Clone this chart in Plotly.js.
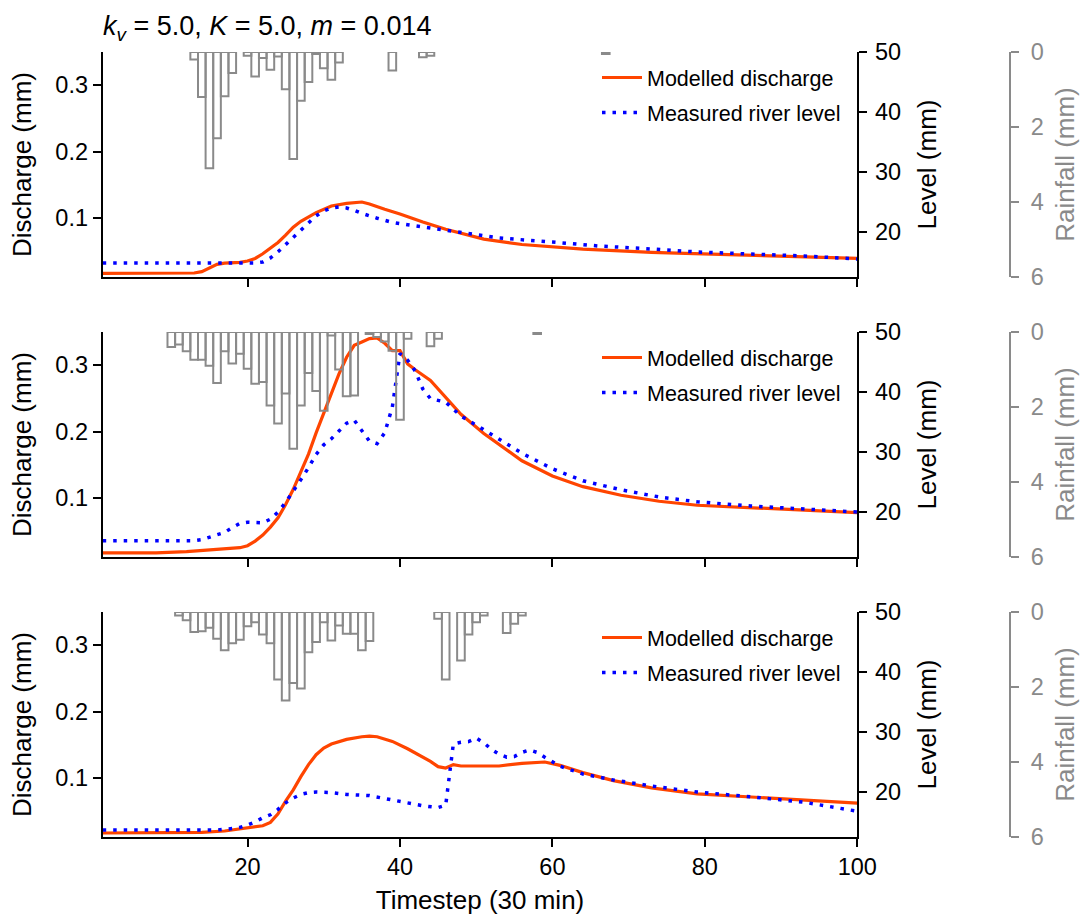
<!DOCTYPE html>
<html>
<head>
<meta charset="utf-8">
<script src="https://cdn.plot.ly/plotly-3.0.1.min.js"></script>
<style>html,body{margin:0;padding:0;background:#fff;}#chart{width:1080px;height:918px;}</style>
</head>
<body>
<div id="chart"></div>
<script>
// ---------- data ----------
const timestepTicks = [20, 40, 60, 80, 100];
const dischargeTicks = [0.1, 0.2, 0.3];
const dischargeTickText = ["0.1", "0.2", "0.3"];
const levelTicks = [20, 30, 40, 50];
const rainTicks = [0, 2, 4, 6];

const seriesNames = ["Modelled discharge", "Measured river level"];
const titleText = "<i>k</i><sub><i>v</i></sub> = 5.0, <i>K</i> = 5.0, <i>m</i> = 0.014";

// Panel 1
const model1_t = [1,5,10,13,14,15,16,17,19,20,21,22,23,24,25,26,27,28,29,31,33,35,36,38,40,43,46,51,56,64,73,82,93,100];
const model1_q = [0.0165,0.0165,0.0165,0.017,0.019,0.025,0.030,0.032,0.033,0.035,0.039,0.046,0.054,0.063,0.074,0.086,0.095,0.102,0.108,0.118,0.122,0.124,0.121,0.113,0.106,0.094,0.083,0.068,0.060,0.053,0.048,0.045,0.042,0.039];
const level1_t = [1,10,21,22,23,24,25,26,27,28,29,30,31,32,33,34,35,37,39,41,44,48,53,60,66,73,79,86,93,100];
const level1_mm = [14.83,14.83,14.83,15.0,15.67,16.7,17.9,19.2,20.5,21.7,22.7,23.5,24.0,24.17,24.0,23.6,23.1,22.3,21.6,21.2,20.67,19.83,19.0,18.33,17.67,17.17,16.67,16.33,16.0,15.5];
const rain1_t = [13,14,15,16,17,18,20,21,22,23,24,25,26,27,28,29,30,31,32,39,43,44,67];
const rain1_mm = [0.2,1.2,3.1,2.3,1.18,0.56,0.1,0.65,0.16,0.47,0.12,0.99,2.85,1.3,0.8,0.05,0.43,0.74,0.28,0.49,0.14,0.1,0.05];

// Panel 2
const model2_t = [1,8,12,16,19,20,21,22,23,24,25,26,27,28,29,30,31,32,33,34,35,36,37,38,39,40,41,42,44,46,48,51,53,56,60,64,69,74,79,86,93,100];
const model2_q = [0.0173,0.0173,0.019,0.022,0.025,0.028,0.035,0.044,0.056,0.07,0.09,0.113,0.141,0.166,0.198,0.228,0.256,0.287,0.312,0.330,0.335,0.340,0.341,0.333,0.322,0.322,0.302,0.293,0.277,0.252,0.226,0.197,0.18,0.156,0.133,0.117,0.104,0.095,0.089,0.085,0.081,0.078];
const level2_t = [1,13,14,15,16,17,18,19,20,21,22,23,24,25,26,27,28,29,30,31,32,33,34,35,36,37,38,39,40,41,42,43,44,46,48,51,53,56,60,64,69,74,79,86,93,100];
const level2_mm = [15.22,15.22,15.4,15.8,16.2,16.6,17.4,18.1,18.3,18.3,18.2,18.8,20.0,21.6,23.4,25.4,27.4,29.6,31.2,32.2,33.5,34.8,35.3,33.6,31.8,31.4,33.2,37.5,46.4,45.3,43.5,40.5,38.9,38.3,36.0,33.7,32.2,29.8,27.2,25.2,23.7,22.5,21.7,21.0,20.5,20.0];
const rain2_t = [10,11,12,13,14,15,16,17,18,19,20,21,22,23,24,25,26,27,28,29,30,31,32,33,34,36,37,38,39,40,41,44,45,58];
const rain2_mm = [0.4,0.33,0.51,0.74,0.74,0.9,1.36,0.51,0.84,0.58,0.98,1.38,1.33,1.96,2.44,1.64,3.11,1.96,1.09,1.57,2.1,0.09,1.0,1.71,1.69,0.05,0.13,0.25,0.5,2.34,0.18,0.38,0.18,0.05];

// Panel 3
const model3_t = [1,10,14,17,20,22,23,24,25,26,27,28,29,30,31,33,35,36,37,38,39,41,43,44,45,46,47,48,51,53,56,59,61,64,68,73,79,86,93,100];
const model3_q = [0.017,0.017,0.018,0.020,0.025,0.028,0.033,0.046,0.065,0.082,0.102,0.12,0.135,0.145,0.151,0.158,0.162,0.163,0.162,0.159,0.155,0.144,0.132,0.125,0.117,0.115,0.12,0.118,0.118,0.118,0.122,0.124,0.119,0.108,0.096,0.085,0.076,0.071,0.066,0.062];
const level3_t = [1,16,18,19,20,21,22,23,24,25,26,27,28,29,31,33,36,38,40,43,45,46,47,48,49,50,51,52,53,54,55,56,57,58,59,61,64,68,73,79,86,93,100];
const level3_mm = [13.67,13.67,13.9,14.1,14.5,15.0,15.7,16.2,17.1,18.2,19.0,19.6,19.9,20.0,19.9,19.6,19.4,18.9,18.4,17.7,17.4,17.8,28.0,28.3,28.4,29.0,28.2,27.1,26.3,25.8,25.9,26.6,27.0,26.6,25.8,24.3,23.0,22.0,21.0,20.0,19.2,18.3,16.8];
const rain3_t = [11,12,13,14,15,16,17,18,19,20,21,22,23,24,25,26,27,28,29,30,31,32,33,34,35,36,45,46,48,49,50,51,54,55,56];
const rain3_mm = [0.09,0.22,0.53,0.51,0.42,0.71,1.02,0.83,0.74,0.38,0.27,0.6,0.83,1.8,2.36,1.89,2.04,1.07,0.8,0.27,0.76,0.36,0.58,0.58,1.02,0.77,0.18,1.8,1.29,0.6,0.27,0.09,0.56,0.31,0.09];

// ---------- layout helpers ----------
const W = 1080, H = 918;
const FONT = "Liberation Sans, Arial, Helvetica, sans-serif";
const TICK = 23.5, LAB = 26;
const xDom = [102.7 / W, 857.3 / W];
const panelsPx = [[52, 277], [332, 557], [612, 837]];
const legendCenterPx = [95, 375, 655];
const rainAxisPos = 1010 / W;
const ORANGE = "#ff4500", BLUE = "#0000ff", GRAY = "#8a8a8a";

const panels = [
  {mt: model1_t, mq: model1_q, lt: level1_t, lm: level1_mm, rt: rain1_t, rm: rain1_mm},
  {mt: model2_t, mq: model2_q, lt: level2_t, lm: level2_mm, rt: rain2_t, rm: rain2_mm},
  {mt: model3_t, mq: model3_q, lt: level3_t, lm: level3_mm, rt: rain3_t, rm: rain3_mm},
];

const traces = [];
const layout = {
  width: W, height: H,
  margin: {l: 0, r: 0, t: 0, b: 0},
  paper_bgcolor: "#fff", plot_bgcolor: "rgba(0,0,0,0)",
  font: {family: FONT, size: TICK, color: "#000"},
  showlegend: true,
  barmode: "overlay",
  title: {text: titleText, x: 103 / W, xanchor: "left", xref: "paper",
          y: 1 - 26 / H, yanchor: "middle", yref: "paper",
          font: {family: FONT, size: 27, color: "#000"}},
};

panels.forEach((p, i) => {
  const n = i + 1;
  const xs = n === 1 ? "" : String(n);
  const yQ = 3 * i + 1, yL = 3 * i + 2, yR = 3 * i + 3;
  const yQs = yQ === 1 ? "" : String(yQ);
  const dom = [1 - panelsPx[i][1] / H, 1 - panelsPx[i][0] / H];
  const legName = n === 1 ? "legend" : "legend" + n;

  traces.push({
    type: "bar", x: p.rt, y: p.rm, width: 1, base: 0,
    xaxis: "x" + xs, yaxis: "y" + yR, showlegend: false, hoverinfo: "skip",
    marker: {color: "rgba(0,0,0,0)", line: {color: GRAY, width: 2}},
  });
  traces.push({
    type: "scatter", mode: "lines", x: p.mt, y: p.mq, name: seriesNames[0],
    xaxis: "x" + xs, yaxis: "y" + yQs, legend: legName, legendgroup: "a" + n,
    line: {color: ORANGE, width: 3.2},
  });
  traces.push({
    type: "scatter", mode: "lines", x: p.lt, y: p.lm, name: seriesNames[1],
    xaxis: "x" + xs, yaxis: "y" + yL, legend: legName, legendgroup: "b" + n,
    line: {color: BLUE, width: 3.5, dash: "3.5px,7px"},
  });

  const xa = {
    domain: xDom, anchor: "y" + yQs, range: [1, 100],
    tickmode: "array", tickvals: timestepTicks,
    ticks: "outside", ticklen: 8, tickwidth: 2, tickcolor: "#000",
    showline: true, linecolor: "#000", linewidth: 2,
    showgrid: false, zeroline: false, showticklabels: n === 3,
    tickfont: {size: TICK, family: FONT},
  };
  if (n === 3) xa.title = {text: "Timestep (30 min)", font: {size: LAB, family: FONT}, standoff: 12};
  layout["xaxis" + xs] = xa;
  // gray top spine
  layout["xaxis" + (n + 3)] = {
    domain: xDom, overlaying: "x" + xs, anchor: "y" + yQs, side: "top", range: [1, 100],
    showline: true, linecolor: "#7a7a7a", linewidth: 2, ticks: "", showticklabels: false,
    showgrid: false, zeroline: false,
  };
  layout["yaxis" + yQs] = {
    domain: dom, anchor: "x" + xs, range: [0.011, 0.35],
    tickmode: "array", tickvals: dischargeTicks, ticktext: dischargeTickText,
    ticks: "outside", ticklen: 8, tickwidth: 2, tickcolor: "#000",
    showline: true, linecolor: "#000", linewidth: 2,
    showgrid: false, zeroline: false, tickfont: {size: TICK, family: FONT},
    title: {text: "Discharge (mm)", font: {size: LAB, family: FONT}, standoff: 16},
  };
  layout["yaxis" + yL] = {
    domain: dom, overlaying: "y" + yQs, anchor: "x" + xs, side: "right", range: [12.5, 50],
    tickmode: "array", tickvals: levelTicks,
    ticks: "outside", ticklen: 8, tickwidth: 2, tickcolor: "#000", ticklabelstandoff: 3,
    showline: true, linecolor: "#000", linewidth: 2,
    showgrid: false, zeroline: false, tickfont: {size: TICK, family: FONT},
    title: {text: "Level (mm)", font: {size: LAB, family: FONT}, standoff: 18},
  };
  layout["yaxis" + yR] = {
    domain: dom, overlaying: "y" + yQs, anchor: "free", position: rainAxisPos, side: "right",
    range: [6, 0],
    tickmode: "array", tickvals: rainTicks,
    ticks: "outside", ticklen: 8, tickwidth: 2, tickcolor: GRAY, ticklabelstandoff: 7,
    showline: true, linecolor: GRAY, linewidth: 2,
    showgrid: false, zeroline: false, tickfont: {size: TICK, family: FONT, color: GRAY},
    title: {text: "Rainfall (mm)", font: {size: LAB, family: FONT, color: GRAY}, standoff: 14},
  };
  layout[legName] = {
    x: 597 / W, xanchor: "left", y: 1 - legendCenterPx[i] / H, yanchor: "middle",
    bgcolor: "rgba(0,0,0,0)", borderwidth: 0,
    font: {size: 21.5, family: FONT}, traceorder: "grouped", tracegroupgap: 4,
    itemwidth: 40,
  };
});

Plotly.newPlot("chart", traces, layout, {staticPlot: true, displayModeBar: false});
</script>
</body>
</html>
